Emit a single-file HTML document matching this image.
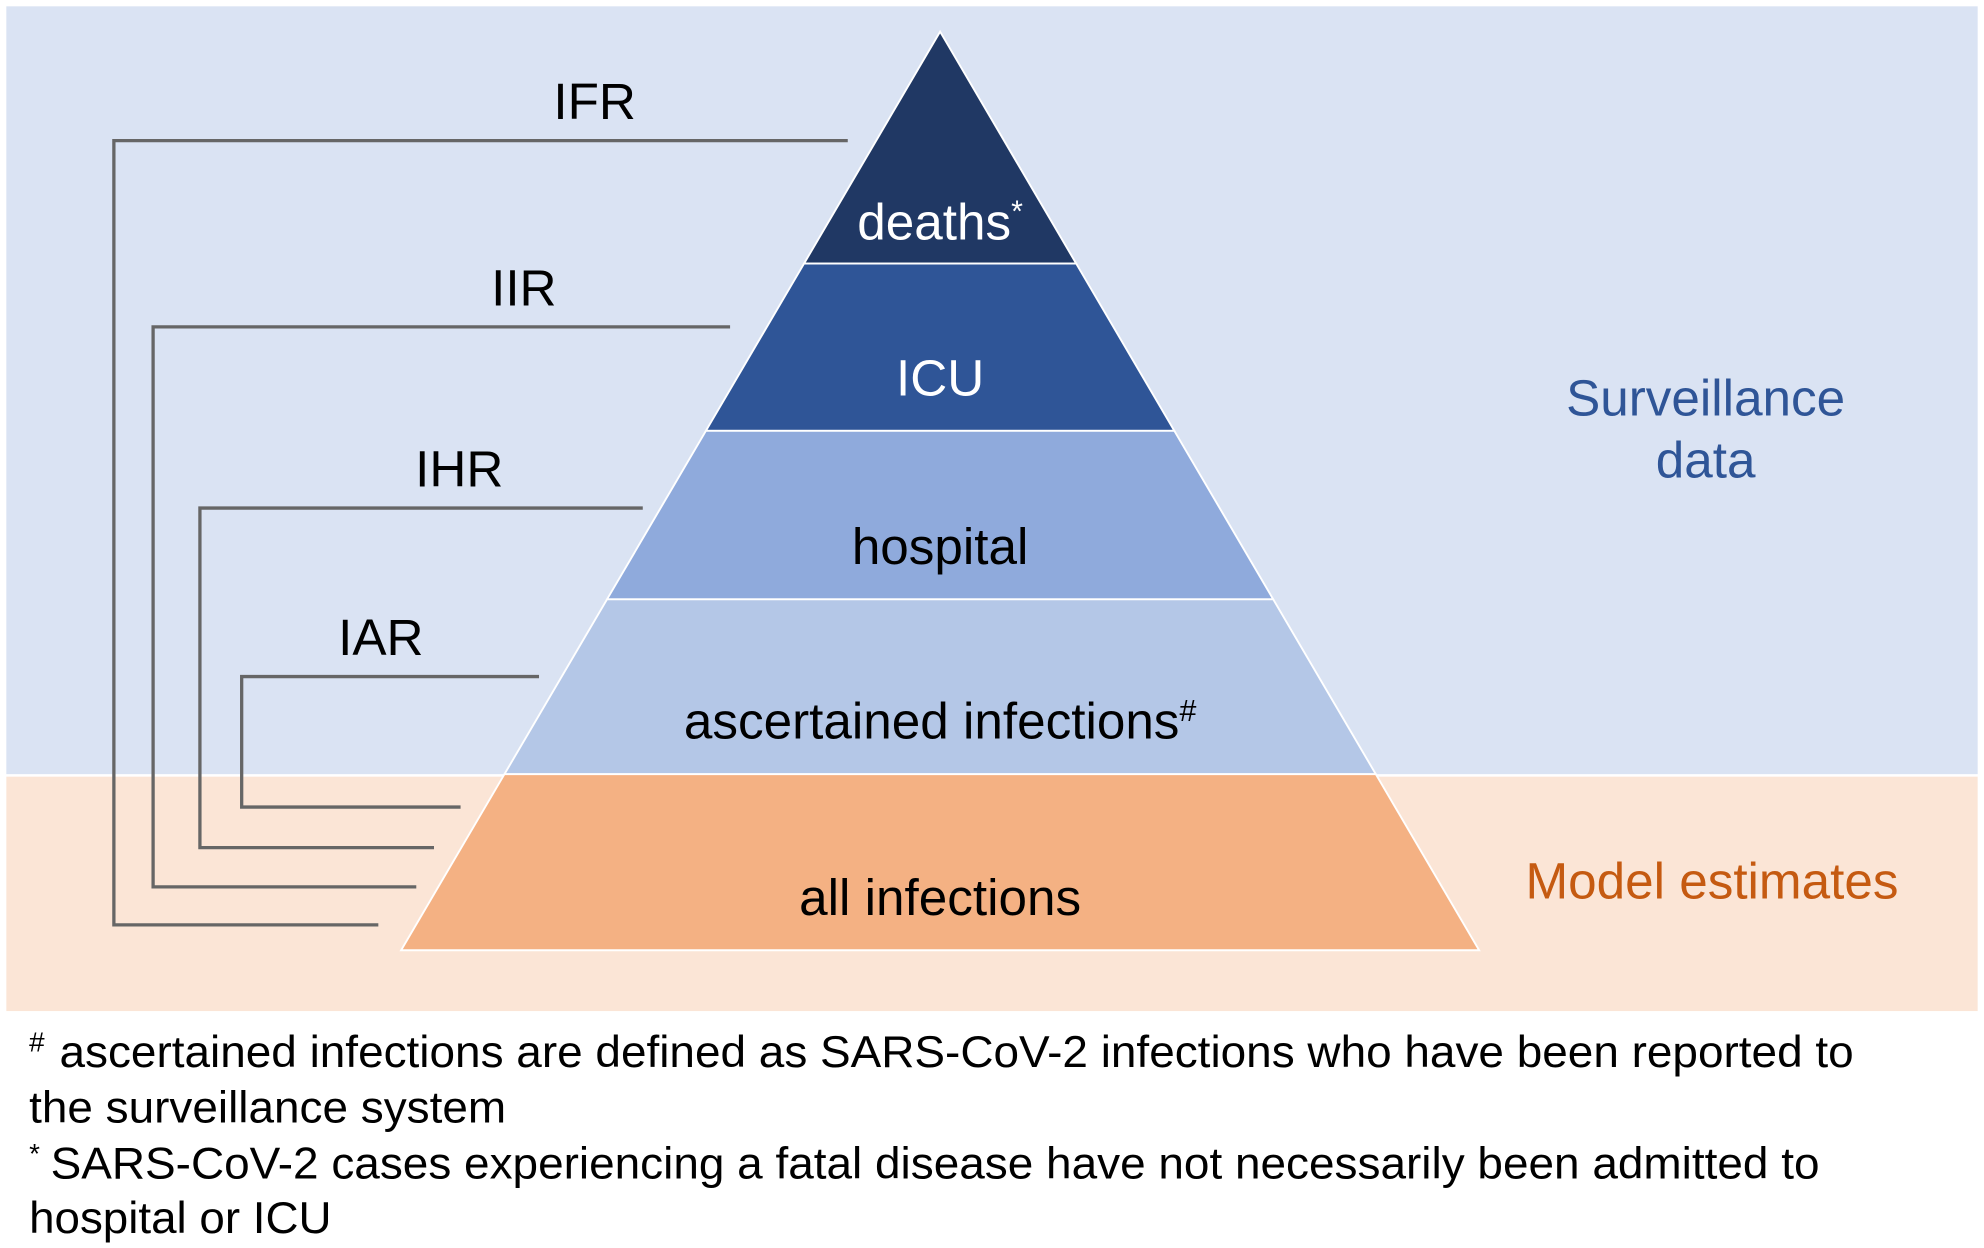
<!DOCTYPE html>
<html><head><meta charset="utf-8"><style>
html,body{margin:0;padding:0;background:#fff;}
svg{display:block;font-family:"Liberation Sans",Arial,sans-serif;}
</style></head><body>
<svg id="chart" width="1984" height="1248" viewBox="0 0 1568 985" preserveAspectRatio="none" xmlns="http://www.w3.org/2000/svg">
<rect x="5" y="5" width="1558" height="606" fill="#dae3f3"/>
<rect x="5" y="613" width="1558" height="185" fill="#fbe5d6"/>
<g id="tiers"></g>
<g id="brackets" fill="none" stroke="#666" stroke-width="2.6"></g>
<g id="labels" font-size="40.5" text-anchor="middle"></g>
<text x="1348" y="328" font-size="40.5" fill="#2f5597" text-anchor="middle">Surveillance</text>
<text x="1348" y="377" font-size="40.5" fill="#2f5597" text-anchor="middle">data</text>
<text x="1353" y="709" font-size="40.5" fill="#c55a11" text-anchor="middle">Model estimates</text>
<g font-size="35" fill="#000">
<text x="23" y="842"><tspan font-size="22" dy="-12">#</tspan><tspan dy="12" x="47" textLength="1418" lengthAdjust="spacingAndGlyphs">ascertained infections are defined as SARS-CoV-2 infections who have been reported to</tspan></text>
<text x="23" y="886" textLength="377" lengthAdjust="spacingAndGlyphs">the surveillance system</text>
<text x="23" y="930"><tspan font-size="22" dy="-12">*</tspan><tspan dy="12" x="40" textLength="1398" lengthAdjust="spacingAndGlyphs">SARS-CoV-2 cases experiencing a fatal disease have not necessarily been admitted to</tspan></text>
<text x="23" y="973" textLength="239" lengthAdjust="spacingAndGlyphs">hospital or ICU</text>
</g>
</svg>
<script>
const tierNames = ["deaths", "ICU", "hospital", "ascertained infections", "all infections"];
const tierBottoms = [208, 340, 473, 611, 750];
const tierColors = ["#203864", "#2f5597", "#8faadc", "#b4c7e7", "#f4b183"];
const tierTextColors = ["#fff", "#fff", "#000", "#000", "#000"];
const tierSup = ["*", "", "", "#", ""];
const ratioNames = ["IFR", "IIR", "IHR", "IAR"];
const ratioTopY = [111, 258, 401, 534];
const ratioLeftX = [90, 121, 158, 191];
const ratioTopEndX = [670, 577, 508, 426];
const ratioBottomY = [730, 700, 669, 637];
const ratioBottomEndX = [299, 329, 343, 364];
const ratioLabelX = [470, 414, 363, 301];

const NS = "http://www.w3.org/2000/svg";
const apexX = 743, apexY = 25, baseHalf = 426;
function halfW(y){ return (y - apexY) / (750 - apexY) * baseHalf; }
const tg = document.getElementById("tiers");
const lg = document.getElementById("labels");
let prev = apexY;
tierBottoms.forEach((b, i) => {
  const p = document.createElementNS(NS, "polygon");
  const t = halfW(prev), w = halfW(b);
  p.setAttribute("points", `${apexX-t},${prev} ${apexX+t},${prev} ${apexX+w},${b} ${apexX-w},${b}`);
  p.setAttribute("fill", tierColors[i]);
  p.setAttribute("stroke", "#fff");
  p.setAttribute("stroke-width", "1.5");
  
  
  tg.appendChild(p);
  const tx = document.createElementNS(NS, "text");
  tx.setAttribute("x", apexX);
  tx.setAttribute("y", i === 0 ? b - 19 : b - 28);
  tx.setAttribute("fill", tierTextColors[i]);
  tx.textContent = tierNames[i];
  if (tierSup[i]) {
    const s = document.createElementNS(NS, "tspan");
    s.setAttribute("font-size", "24");
    s.setAttribute("dy", "-14");
    s.textContent = tierSup[i];
    tx.appendChild(s);
  }
  
  
  lg.appendChild(tx);
  prev = b;
});
const bg = document.getElementById("brackets");
ratioNames.forEach((n, i) => {
  const pl = document.createElementNS(NS, "polyline");
  pl.setAttribute("points", `${ratioTopEndX[i]},${ratioTopY[i]} ${ratioLeftX[i]},${ratioTopY[i]} ${ratioLeftX[i]},${ratioBottomY[i]} ${ratioBottomEndX[i]},${ratioBottomY[i]}`);
  
  
  bg.appendChild(pl);
  const tx = document.createElementNS(NS, "text");
  tx.setAttribute("x", ratioLabelX[i]);
  tx.setAttribute("y", ratioTopY[i] - 17);
  tx.textContent = n;
  
  
  lg.appendChild(tx);
});
</script>
</body></html>
